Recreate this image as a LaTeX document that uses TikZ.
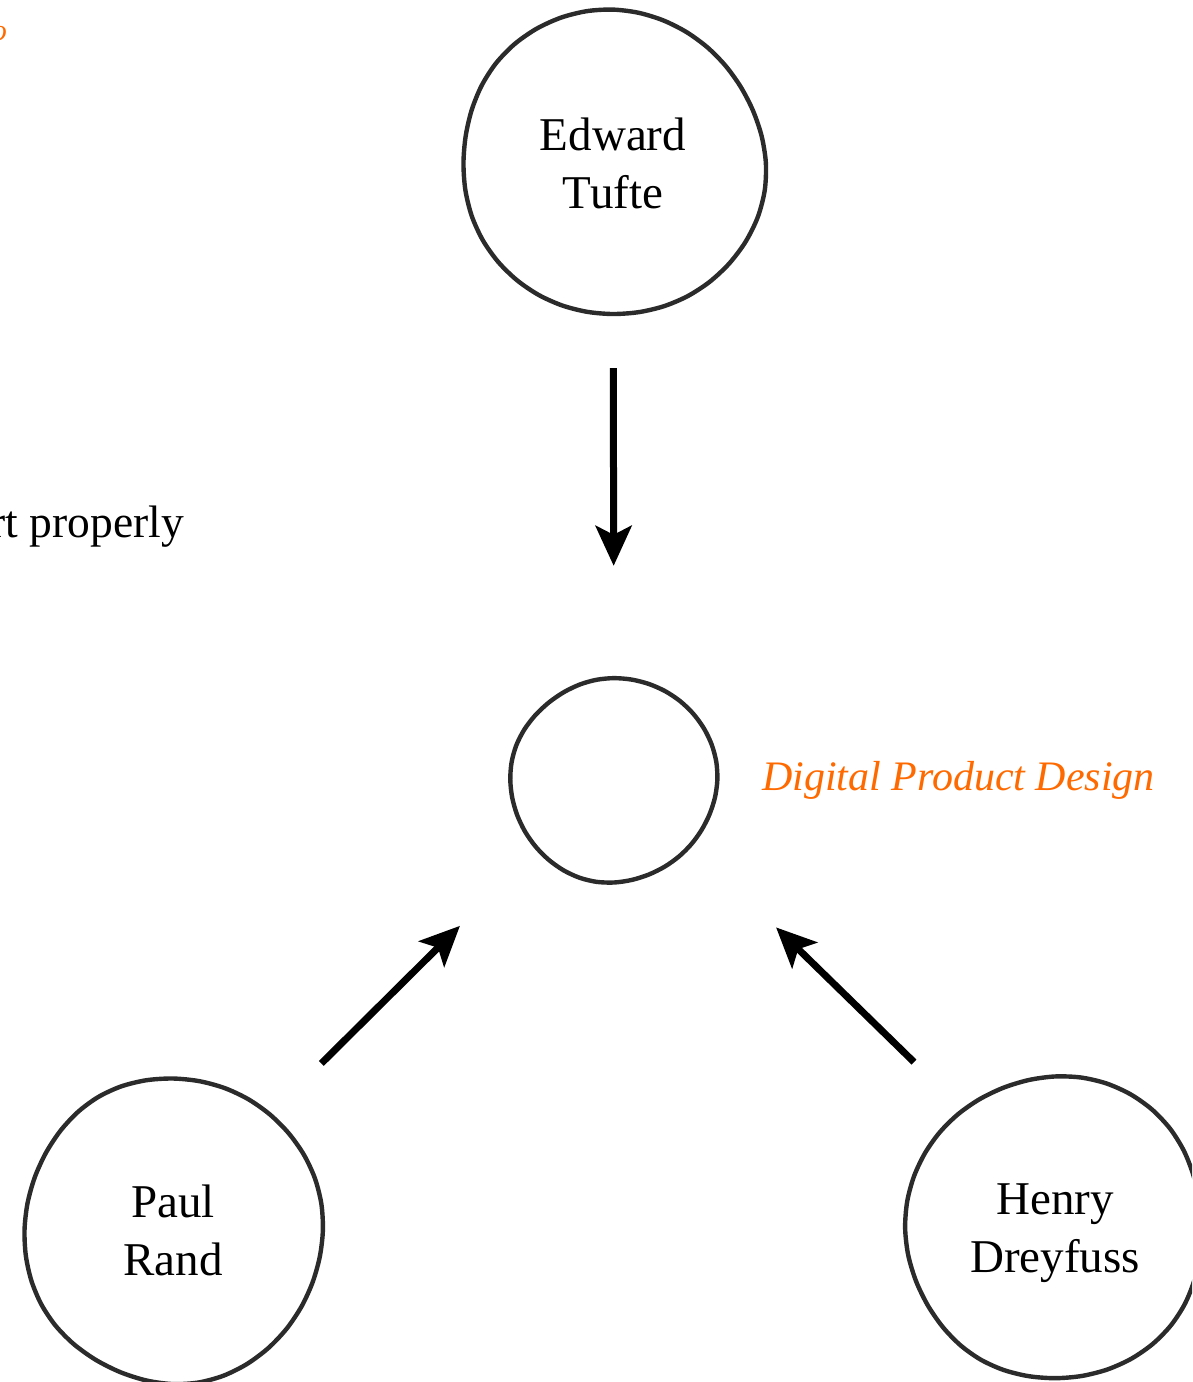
\documentclass[tikz,border=0pt]{standalone}
\usepackage{fontspec}
\setmainfont{Liberation Serif}
\usetikzlibrary{arrows.meta}
\definecolor{accent}{HTML}{FF6A00}
\definecolor{ink}{HTML}{2B2B2B}

% hand-drawn looking ring around a named node
% #1 node name, #2 x radius, #3 y radius, #4 phase
\newcommand\handring[4]{%
  \draw[handline, shift={(#1.center)}]
    plot[smooth cycle, domain=0:350, samples=36]
    ({#2*cos(\x)*(1+0.016*sin(2*\x+#4)+0.010*sin(3*\x+2*#4)+0.005*sin(5*\x+#4))},
     {#3*sin(\x)*(1+0.015*sin(2*\x+1.7*#4)+0.009*sin(3*\x+#4))});%
}

\tikzset{
  x=1pt, y=-1pt,
  handline/.style={ink, line width=4.4pt, line join=round},
  person/.style={circle, inner sep=0pt, align=center, text depth=0pt,
    font=\fontsize{47}{58}\selectfont},
  flow/.style={line width=7pt,
    -{Stealth[length=40pt, width=36pt, inset=9pt]}},
  label/.style={inner sep=0pt, font=\fontsize{47}{58}\selectfont}
}

\begin{document}
\begin{tikzpicture}
\useasboundingbox (0,0) rectangle (1192,1382);
\clip (0,0) rectangle (1192,1382);

% people and the field they feed into
\node[person, minimum size=306pt] (tufte) at (613,163) {Edward\\Tufte};
\node[person, minimum size=206pt] (field) at (614,780) {};
\node[person, minimum size=302pt] (rand) at (173,1230) {Paul\\Rand};
\node[person, minimum size=302pt] (dreyfuss) at (1055,1228) {Henry\\Dreyfuss};

\handring{tufte}{150}{154}{30}
\handring{field}{102}{102}{110}
\handring{rand}{150}{152}{200}
\handring{dreyfuss}{150}{152}{300}

\node[label, accent, font=\fontsize{42}{50}\selectfont\itshape, anchor=base west]
  (fieldname) at (762,790) {Digital Product Design};

\node[label, font=\fontsize{45.5}{56}\selectfont, anchor=base east]
  (note) at (184,537) {rt properly};
\node[label, accent, font=\fontsize{30}{36}\selectfont\itshape, anchor=base east]
  (mark) at (7,40) {o};

% influence arrows
\draw[flow, shorten <=52pt, shorten >=111pt] (tufte) -- (field);
\draw[flow, shorten <=72pt, shorten >=109pt] (rand.50) -- (field.222);
\draw[flow, shorten <=67pt, shorten >=116pt] (dreyfuss.128) -- (field.320);
\end{tikzpicture}
\end{document}
